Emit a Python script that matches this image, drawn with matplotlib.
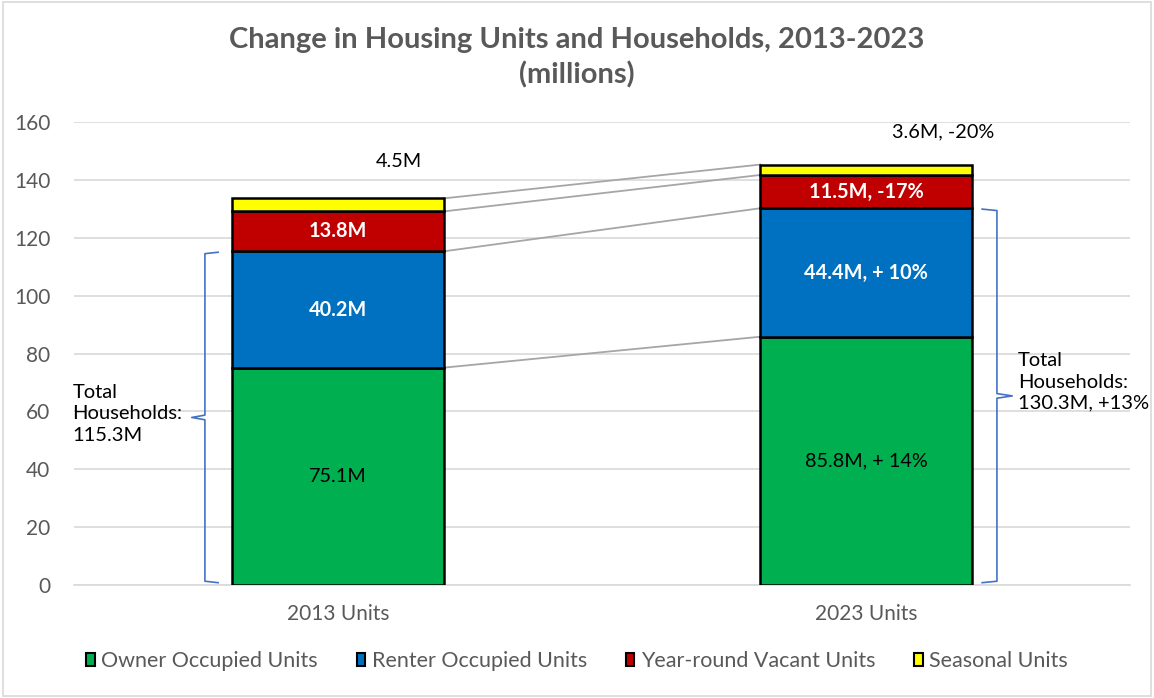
import matplotlib.pyplot as plt
import numpy as np

plt.rcParams['font.family'] = ['Lato', 'DejaVu Sans']

# data (millions)
categories = ['2013 Units', '2023 Units']
series = ['Owner Occupied Units', 'Renter Occupied Units', 'Year-round Vacant Units', 'Seasonal Units']
owner = [75.1, 85.8]
renter = [40.2, 44.4]
vacant = [13.8, 11.5]
seasonal = [4.5, 3.6]
labels_owner = ['75.1M', '85.8M, + 14%']
labels_renter = ['40.2M', '44.4M, + 10%']
labels_vacant = ['13.8M', '11.5M, -17%']
labels_seasonal = ['4.5M', '3.6M, -20%']
households_text = ['Total\nHouseholds:\n115.3M', 'Total\nHouseholds:\n130.3M, +13%']

colors = ['#00b050', '#0070c0', '#c00000', '#ffff00']
grey = '#595959'

fig = plt.figure(figsize=(11.54, 6.98), dpi=100)
ax = fig.add_axes([0.0641, 0.1619, 0.9151, 0.6633])

x = np.arange(len(categories))
width = 0.4
values = [owner, renter, vacant, seasonal]
bottom = np.zeros(len(categories))
tops = []
for vals, col, name in zip(values, colors, series):
    ax.bar(x, vals, width, bottom=bottom, color=col, edgecolor='black',
           linewidth=1.8, label=name, zorder=3)
    bottom = bottom + np.array(vals)
    tops.append(bottom.copy())

# connector lines between the bars
for t in tops:
    ax.plot([x[0] + width / 2, x[1] - width / 2], [t[0], t[1]],
            color='#a6a6a6', linewidth=1.3, zorder=2)

# labels inside segments
base = np.zeros(len(categories))
for vals, labs, tc in [(owner, labels_owner, 'black'),
                       (renter, labels_renter, 'white'),
                       (vacant, labels_vacant, 'white')]:
    for i in range(len(categories)):
        ax.text(x[i], base[i] + vals[i] / 2, labs[i], ha='center', va='center',
                fontsize=14.3, color=tc, zorder=4,
                fontweight='bold' if tc == 'white' else 'normal')
    base = base + np.array(vals)

# seasonal labels above bars
ax.text(x[0] + 0.115, tops[3][0] + 12.6, labels_seasonal[0], ha='center', va='center',
        fontsize=14.3, color='black')
ax.text(x[1] + 0.146, tops[3][1] + 11.2, labels_seasonal[1], ha='center', va='center',
        fontsize=14.3, color='black')

# braces for total households
hh = [owner[i] + renter[i] for i in range(len(categories))]


def brace(xv, xh, xt, y0, y1):
    ym = (y0 + y1) / 2
    ax.plot([xh, xv, xv, xt, xv, xv, xh], [y0 + 0.3, y0 + 0.8, ym - 0.8, ym, ym + 0.8, y1 - 0.8, y1 - 0.3],
            color='#4472c4', linewidth=1.2, zorder=2, solid_joinstyle='round')


brace(-0.252, -0.227, -0.277, 0.5, hh[0])
brace(1.248, 1.220, 1.277, 0.5, hh[1])

ax.text(-0.503, hh[0] / 2 + 1.5, households_text[0], ha='left', va='center', fontsize=14.5,
        color='black', linespacing=1.3)
ax.text(1.288, hh[1] / 2 + 5, households_text[1], ha='left', va='center', fontsize=14.5,
        color='black', linespacing=1.3)

ax.set_xlim(-0.5, 1.5)
ax.set_ylim(0, 160)
ax.set_yticks(np.arange(0, 161, 20))
ax.set_xticks(x)
ax.set_xticklabels(categories)
ax.yaxis.grid(True, color='#d9d9d9', linewidth=1.2, zorder=0)
ax.set_axisbelow(True)
for s in ['top', 'right', 'left']:
    ax.spines[s].set_visible(False)
ax.spines['bottom'].set_color('#d9d9d9')
ax.spines['bottom'].set_linewidth(1.2)
ax.tick_params(axis='both', length=0, labelsize=15, colors=grey)
ax.tick_params(axis='y', pad=17)
ax.tick_params(axis='x', pad=14)

fig.text(0.5, 0.9176, 'Change in Housing Units and Households, 2013-2023\n(millions)',
         ha='center', va='center', fontsize=21, fontweight='bold', color=grey,
         linespacing=1.35)

leg = ax.legend(loc='center', bbox_to_anchor=(0.5, 0.053), bbox_transform=fig.transFigure,
                ncol=4, frameon=False, fontsize=15.5, handlelength=0.4, handleheight=0.6,
                handletextpad=0.3, columnspacing=1.8)
for t in leg.get_texts():
    t.set_color(grey)
for h in leg.legend_handles:
    h.set_linewidth(1.5)

# light frame around the chart
fig.patches.append(plt.Rectangle((0.003, 0.003), 0.994, 0.994, transform=fig.transFigure,
                                 fill=False, edgecolor='#d9d9d9', linewidth=1.2))

fig.savefig('out.png', dpi=100)
